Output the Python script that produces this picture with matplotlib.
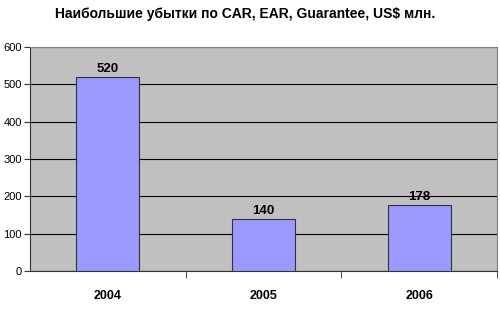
import matplotlib.pyplot as plt
import numpy as np

years = ["2004", "2005", "2006"]
losses = [520, 140, 178]
y_ticks = [0, 100, 200, 300, 400, 500, 600]

plt.rcParams['font.family'] = ['Liberation Sans', 'DejaVu Sans']

fig = plt.figure(figsize=(5, 3.09), dpi=100)
ax = fig.add_axes([0.06, 0.123, 0.934, 0.725])
ax.set_facecolor('#C0C0C0')

x = np.arange(len(years))
ax.bar(x, losses, width=0.405, color='#9999FF', edgecolor='#333333', linewidth=0.8, zorder=3)
for xi, v in zip(x, losses):
    ax.text(xi, v + 4, str(v), ha='center', va='bottom', fontsize=9.5, fontweight='bold', zorder=4)

ax.set_xlim(-0.5, len(years) - 0.5)
ax.set_ylim(0, 600)
ax.set_yticks(y_ticks)
ax.set_yticklabels([str(t) for t in y_ticks], fontsize=8)
ax.yaxis.grid(True, color='black', linewidth=0.8, zorder=1)
ax.set_axisbelow(True)

# category labels between boundary ticks
ax.set_xticks(x)
ax.set_xticklabels(years, fontsize=9, fontweight='bold')
ax.tick_params(axis='x', length=0, pad=14)
ax.set_xticks(np.arange(len(years)) + 0.5, minor=True)
ax.tick_params(axis='x', which='minor', length=5, direction='out', color='#333333')
ax.tick_params(axis='y', length=4, direction='out', pad=2, color='#333333')

for s in ['top', 'right']:
    ax.spines[s].set_color('#808080')
    ax.spines[s].set_linewidth(0.8)
for s in ['left', 'bottom']:
    ax.spines[s].set_color('#333333')
    ax.spines[s].set_linewidth(0.8)

fig.text(0.49, 0.955, "Наибольшие убытки по CAR, EAR, Guarantee, US$ млн.",
         ha='center', va='center', fontsize=10, fontweight='bold')

fig.savefig('out.png', dpi=100, facecolor='white')
